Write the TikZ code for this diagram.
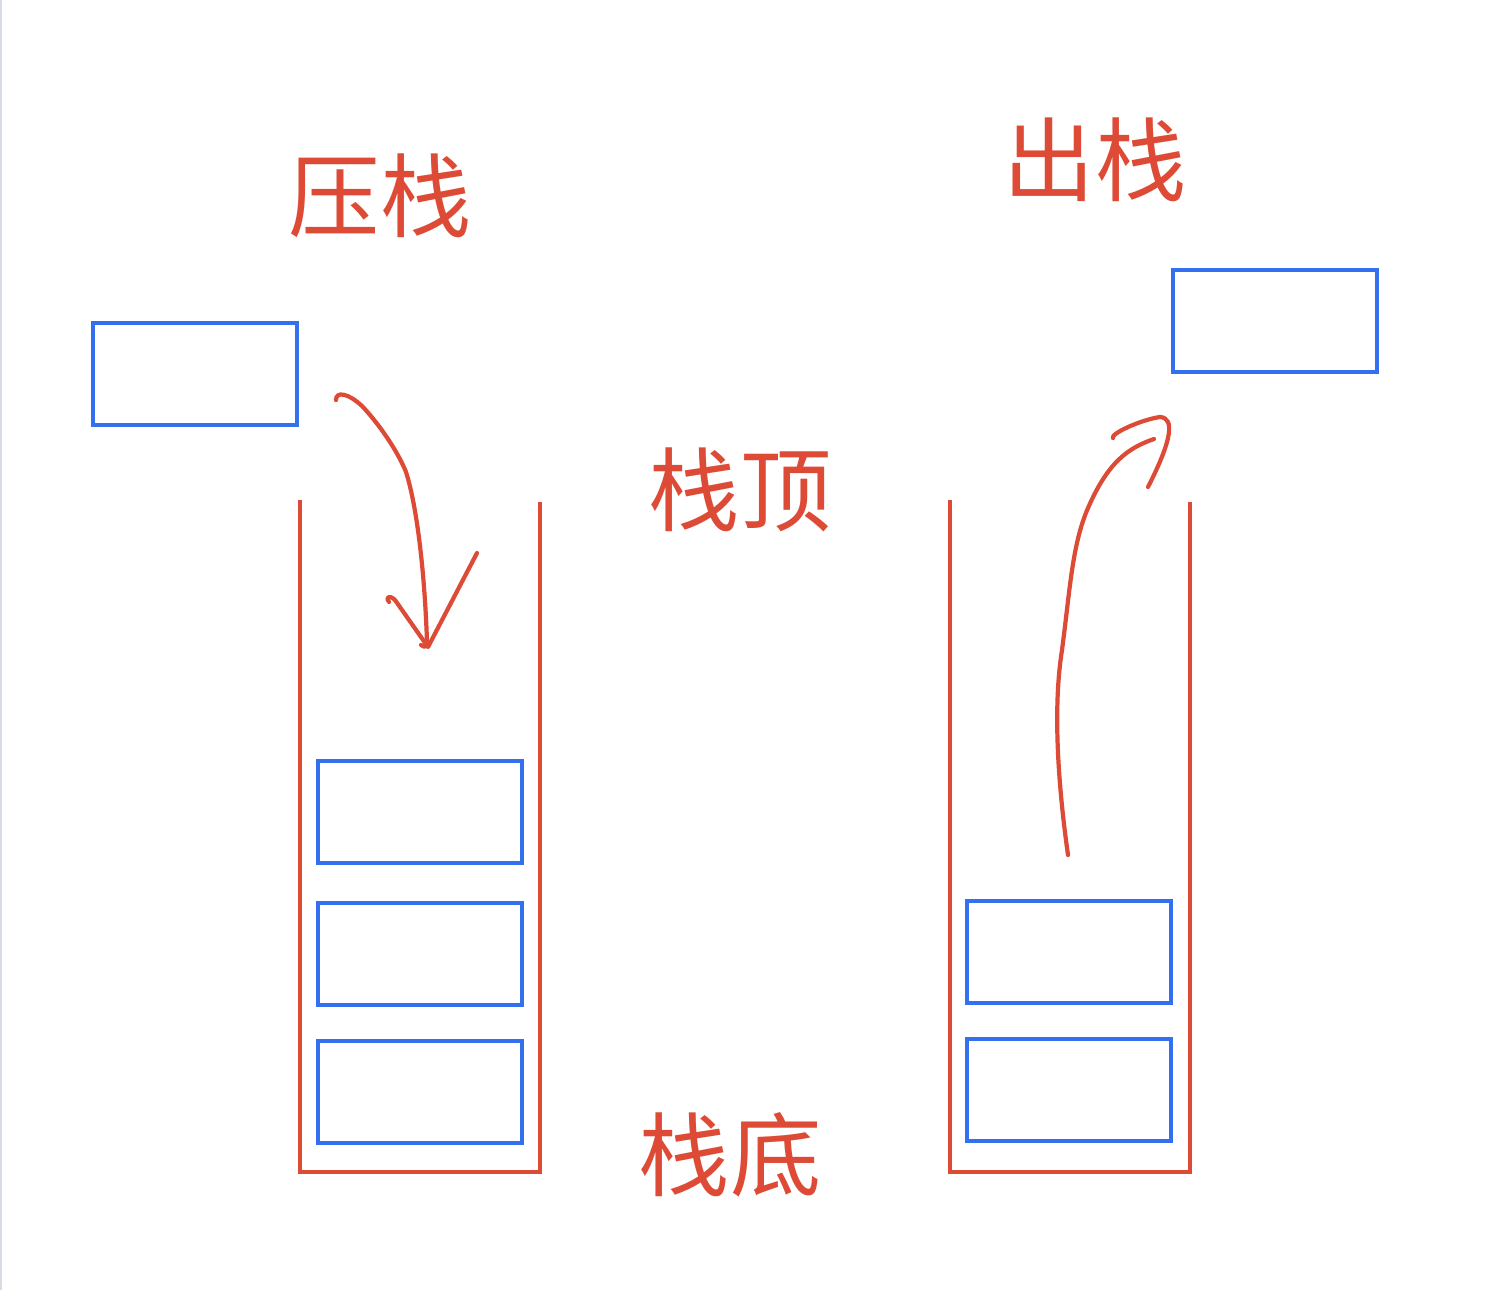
\documentclass[tikz,border=0pt]{standalone}
\usepackage{fontspec}
\usepackage{xcolor}
\usepackage{tikz}
\newfontfamily\cjk{Noto Sans CJK SC}
\definecolor{penred}{RGB}{221,74,53}
\definecolor{boxblue}{RGB}{51,112,240}
\definecolor{edgegray}{RGB}{214,219,230}

\begin{document}
\begin{tikzpicture}[x=0.02cm,y=-0.02cm,
  elem/.style={draw=boxblue,line width=2.2pt,minimum width=4.08cm,minimum height=2.04cm,inner sep=0pt},
  pen/.style={penred,line width=2.4pt,line cap=round,line join=round},
  hand/.style={text=penred,font=\cjk\fontsize{52}{56}\selectfont,inner sep=0pt}]
\useasboundingbox (0,0) rectangle (1502,1290);
\draw[edgegray,line width=1.2pt] (1,0) -- (1,1290);
% the two stacks
\draw[penred,line width=2.1pt] (300,500) -- (300,1172) -- (540,1172) -- (540,502);
\draw[penred,line width=2.1pt] (950,500) -- (950,1172) -- (1190,1172) -- (1190,502);
% elements
\node[elem] (pushbox) at (195,374) {};
\node[elem] (popbox) at (1275,321) {};
\foreach \y [count=\i] in {812,954,1092}{
\node[elem] (lbox\i) at (420,\y) {};
}
\foreach \y [count=\i] in {952,1090}{
\node[elem] (rbox\i) at (1069,\y) {};
}
% labels
\node[hand] (lblpush) at (380,196) {压栈};
\node[hand] (lblpop) at (1095,160) {出栈};
\node[hand] (lbltop) at (740,490) {栈顶};
\node[hand] (lblbottom) at (730,1155) {栈底};
% push arrow
\coordinate (pushfrom) at (336,400);
\coordinate (pushto) at (427,642);
\coordinate (pushtip) at (428,647);
\draw[pen] (pushfrom) .. controls (336,391) and (348,393) .. (362,406)
  .. controls (380,425) and (398,452) .. (406,472)
  .. controls (418,510) and (425,580) .. (pushto)
  .. controls (427,647) and (425,648) .. (421,645);
\draw[pen] (389,602) .. controls (385,598) and (389,594) .. (395,600) -- (pushtip) -- (477,553);
% pop arrow
\coordinate (popfrom) at (1068,855);
\coordinate (popto) at (1154,439);
\draw[pen] (popfrom) .. controls (1056,770) and (1054,700) .. (1062,650)
  .. controls (1070,590) and (1072,545) .. (1088,508)
  .. controls (1108,462) and (1128,448) .. (popto);
\draw[pen] (1113,438) .. controls (1110,434) and (1140,420) .. (1160,417)
  .. controls (1175,418) and (1172,440) .. (1148,487);
\end{tikzpicture}
\end{document}
